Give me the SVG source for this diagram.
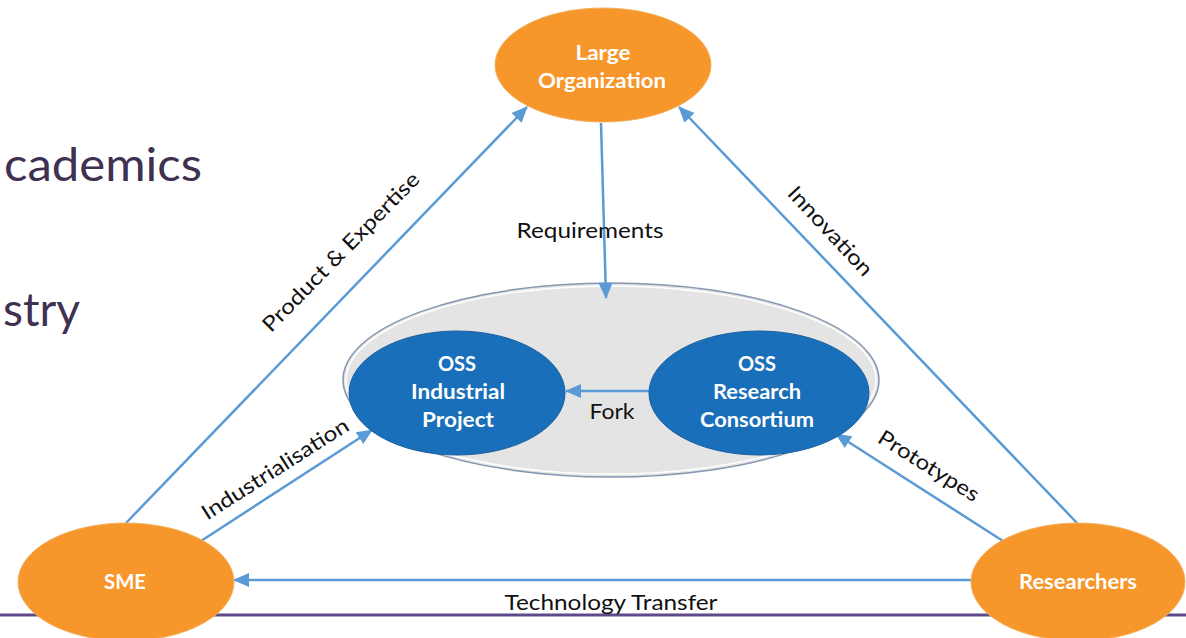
<svg xmlns="http://www.w3.org/2000/svg" width="1186" height="638" viewBox="0 0 1186 638">
<defs>
<marker id="ah" markerUnits="userSpaceOnUse" markerWidth="16" markerHeight="14" viewBox="0 0 16 14" refX="15" refY="7" orient="auto">
<path d="M0,0 L16,7 L0,14 Z" fill="#5b9bd5"/>
</marker>
<style>
.bg{font-family:"Lato","Open Sans","Liberation Sans",sans-serif;fill:#3f3151;font-size:46px}
.org{fill:#f7962b;stroke:#f2b15c;stroke-width:1}
.oss{fill:#1a6fba;stroke:#1a5f9e;stroke-width:1}
.nt{font-family:"Lato","Open Sans","Liberation Sans",sans-serif;font-weight:bold;fill:#fff;font-size:20px;text-anchor:middle}
.lb{font-family:"Lato","Open Sans","Liberation Sans",sans-serif;fill:#111;font-size:21px;text-anchor:middle}
.cn{stroke:#5b9bd5;stroke-width:2.5;fill:none}
</style>
</defs>
<rect width="1186" height="638" fill="#fff"/>
<text class="bg" x="4" y="181" textLength="198" lengthAdjust="spacingAndGlyphs">cademics</text>
<text class="bg" x="3" y="326" textLength="77" lengthAdjust="spacingAndGlyphs">stry</text>
<line x1="0" y1="615" x2="1186" y2="615" stroke="#5e4a8a" stroke-width="3"/>

<g id="oss-area">
<ellipse cx="611" cy="380" rx="268" ry="97" fill="#e4e4e4" stroke="#8497b0" stroke-width="1.5"/>
<ellipse cx="611" cy="380" rx="265" ry="94" fill="none" stroke="#fff" stroke-width="1.5"/>
</g>

<g id="connectors">
<line class="cn" x1="601" y1="123" x2="606" y2="298" marker-end="url(#ah)"/>
<line class="cn" x1="126" y1="523" x2="527" y2="107" marker-end="url(#ah)"/>
<line class="cn" x1="1077" y1="523" x2="679" y2="107" marker-end="url(#ah)"/>
<line class="cn" x1="201" y1="541" x2="372" y2="430" marker-end="url(#ah)"/>
<line class="cn" x1="1003" y1="541" x2="836" y2="434" marker-end="url(#ah)"/>
<line class="cn" x1="650" y1="391" x2="566" y2="391" marker-end="url(#ah)"/>
<line class="cn" x1="973" y1="580" x2="234" y2="580" marker-end="url(#ah)"/>
<text class="lb" x="590" y="238" textLength="147" lengthAdjust="spacingAndGlyphs">Requirements</text>
<text class="lb" x="612" y="419" textLength="45" lengthAdjust="spacingAndGlyphs">Fork</text>
<text class="lb" x="611" y="610" textLength="213" lengthAdjust="spacingAndGlyphs">Technology Transfer</text>
<text class="lb" transform="translate(346,257) rotate(-45.5)" x="0" y="0" textLength="214" lengthAdjust="spacingAndGlyphs">Product &amp; Expertise</text>
<text class="lb" transform="translate(825,236) rotate(47)" x="0" y="0" textLength="114" lengthAdjust="spacingAndGlyphs">Innovation</text>
<text class="lb" transform="translate(279,475) rotate(-32.5)" x="0" y="0" textLength="170" lengthAdjust="spacingAndGlyphs">Industrialisation</text>
<text class="lb" transform="translate(925,472) rotate(32)" x="0" y="0" textLength="115" lengthAdjust="spacingAndGlyphs">Prototypes</text>
</g>

<g id="large-organization">
<ellipse class="org" cx="603" cy="65" rx="108" ry="57"/>
<text class="nt" x="603" y="60" textLength="55" lengthAdjust="spacingAndGlyphs">Large</text>
<text class="nt" x="602" y="88" textLength="128" lengthAdjust="spacingAndGlyphs">Organization</text>
</g>
<g id="sme">
<ellipse class="org" cx="126" cy="582" rx="108" ry="59"/>
<text class="nt" x="125" y="589" textLength="42" lengthAdjust="spacingAndGlyphs">SME</text>
</g>
<g id="researchers">
<ellipse class="org" cx="1078" cy="582" rx="107" ry="59"/>
<text class="nt" x="1078" y="589" textLength="118" lengthAdjust="spacingAndGlyphs">Researchers</text>
</g>
<g id="oss-industrial">
<ellipse class="oss" cx="457" cy="393" rx="108" ry="62"/>
<text class="nt" x="457" y="371" textLength="38" lengthAdjust="spacingAndGlyphs">OSS</text>
<text class="nt" x="458" y="399" textLength="94" lengthAdjust="spacingAndGlyphs">Industrial</text>
<text class="nt" x="458" y="427" textLength="72" lengthAdjust="spacingAndGlyphs">Project</text>
</g>
<g id="oss-research">
<ellipse class="oss" cx="759" cy="393" rx="110" ry="62"/>
<text class="nt" x="757" y="371" textLength="38" lengthAdjust="spacingAndGlyphs">OSS</text>
<text class="nt" x="757" y="399" textLength="88" lengthAdjust="spacingAndGlyphs">Research</text>
<text class="nt" x="757" y="427" textLength="114" lengthAdjust="spacingAndGlyphs">Consortium</text>
</g>
</svg>
